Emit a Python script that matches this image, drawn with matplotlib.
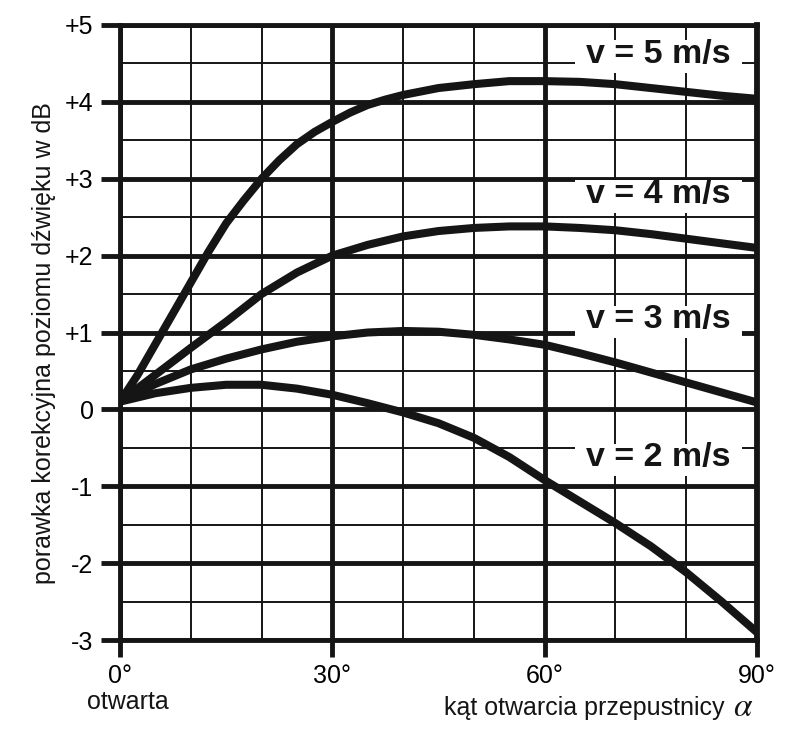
import matplotlib
matplotlib.use('Agg')
import matplotlib.pyplot as plt
from matplotlib.ticker import MultipleLocator, FixedLocator, FixedFormatter
from matplotlib.patches import Rectangle

plt.rcParams['font.family'] = ['Liberation Sans', 'DejaVu Sans']
plt.rcParams['mathtext.fontset'] = 'stix'

# ---- data ----
angle_v5 = [0, 2.5, 5, 7.5, 10, 12.5, 15, 17.5, 20, 22.5, 25, 27.5, 30, 32.5, 35, 37.5, 40, 45, 50, 55, 60, 65, 70, 75, 80, 85, 90]
corr_v5 = [0.1, 0.45, 0.85, 1.25, 1.65, 2.05, 2.42, 2.72, 3.0, 3.24, 3.45, 3.61, 3.74, 3.86, 3.96, 4.03, 4.09, 4.18, 4.23, 4.27, 4.27, 4.26, 4.23, 4.18, 4.13, 4.08, 4.04]

angle_v4 = [0, 5, 10, 15, 20, 25, 30, 35, 40, 45, 50, 55, 60, 65, 70, 75, 80, 85, 90]
corr_v4 = [0.1, 0.45, 0.8, 1.14, 1.5, 1.78, 2.0, 2.14, 2.25, 2.32, 2.36, 2.38, 2.38, 2.36, 2.33, 2.28, 2.22, 2.16, 2.1]

angle_v3 = [0, 5, 10, 15, 20, 25, 30, 35, 40, 45, 50, 55, 60, 65, 70, 75, 80, 85, 90]
corr_v3 = [0.1, 0.33, 0.52, 0.66, 0.78, 0.88, 0.95, 1.0, 1.02, 1.01, 0.97, 0.91, 0.84, 0.73, 0.61, 0.48, 0.35, 0.22, 0.09]

angle_v2 = [0, 5, 10, 15, 20, 25, 30, 35, 40, 45, 50, 55, 60, 65, 70, 75, 80, 85, 90]
corr_v2 = [0.1, 0.21, 0.28, 0.32, 0.32, 0.27, 0.19, 0.08, -0.04, -0.18, -0.37, -0.62, -0.92, -1.2, -1.48, -1.78, -2.12, -2.5, -2.9]

series_labels = ['v = 5 m/s', 'v = 4 m/s', 'v = 3 m/s', 'v = 2 m/s']
label_x = [76.1, 76.1, 76.1, 76.1]
label_y = [4.59, 2.77, 1.14, -0.66]

x_ticks = [0, 30, 60, 90]
x_tick_labels = ['0°', '30°', '60°', '90°']
y_ticks = [-3, -2, -1, 0, 1, 2, 3, 4, 5]
y_tick_labels = ['-3', '-2', '-1', '0', '+1', '+2', '+3', '+4', '+5']

# ---- figure ----
W, H = 801, 737
fig = plt.figure(figsize=(W / 100, H / 100), dpi=100)
ax = fig.add_axes([120 / W, (H - 640) / H, (757 - 120) / W, (640 - 25) / H])
ax.set_xlim(0, 90)
ax.set_ylim(-3, 5)

ink = '#151515'
thick = 3.5
thin = 1.4

ax.xaxis.set_major_locator(FixedLocator(x_ticks))
ax.xaxis.set_major_formatter(FixedFormatter(x_tick_labels))
ax.xaxis.set_minor_locator(MultipleLocator(10))
ax.yaxis.set_major_locator(FixedLocator(y_ticks))
ax.yaxis.set_major_formatter(FixedFormatter(y_tick_labels))
ax.yaxis.set_minor_locator(MultipleLocator(0.5))

ax.grid(which='major', color=ink, lw=thick)
ax.grid(which='minor', color=ink, lw=thin)
ax.set_axisbelow(True)

ax.tick_params(axis='y', which='major', length=14, width=thick, color=ink,
               labelsize=18, pad=5, direction='out')
ax.tick_params(axis='x', which='major', length=12, width=thick, color=ink,
               labelsize=18, pad=5, direction='out')
ax.tick_params(which='minor', length=0)

for s in ax.spines.values():
    s.set_linewidth(thick)
    s.set_color(ink)
ax.spines['right'].set_linewidth(4.2)

# curves
for xs, ys in [(angle_v5, corr_v5), (angle_v4, corr_v4), (angle_v3, corr_v3), (angle_v2, corr_v2)]:
    ax.plot(xs, ys, color=ink, lw=5.8, solid_capstyle='round', solid_joinstyle='round', zorder=3)

# labels with white boxes
box_w = 23.7
box_h = 0.42
for lab, lx, ly in zip(series_labels, label_x, label_y):
    ax.add_patch(Rectangle((lx - box_w / 2, ly - box_h / 2), box_w, box_h,
                           facecolor='white', edgecolor='none', zorder=2.5))
    ax.text(lx, ly + 0.03, lab, ha='center', va='center', fontsize=24.5,
            fontweight='bold', color=ink, zorder=4)

# axis texts
fig.text(128 / W, 1 - 702 / H, 'otwarta', ha='center', va='center', fontsize=18, color=ink)
fig.text(724 / W, 1 - 708 / H, 'kąt otwarcia przepustnicy', ha='right',
         va='center', fontsize=18, color=ink)
fig.text(743 / W, 1 - 707 / H, '$\\alpha$', ha='center', va='center', fontsize=24, color=ink)
fig.text(44 / W, 1 - 343 / H, 'porawka korekcyjna poziomu dźwięku w dB', rotation=90,
         ha='center', va='center', fontsize=18, color=ink)

fig.savefig('out.png', dpi=100, facecolor='white')
